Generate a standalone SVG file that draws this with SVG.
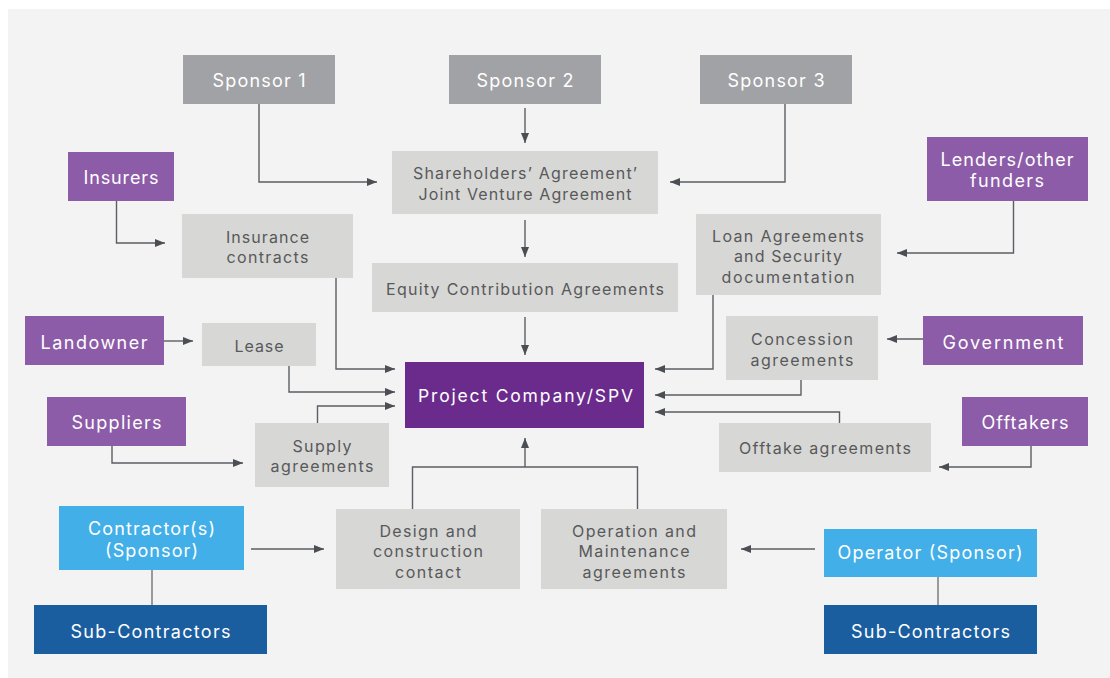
<svg xmlns="http://www.w3.org/2000/svg" width="1110" height="678" viewBox="0 0 1110 678">
<style>
.t{font-family:Inter,"Open Sans","Liberation Sans",sans-serif;text-anchor:middle}
.w{fill:#ffffff;font-size:18px}
.g{fill:#58595b;font-size:16px}
.sp{fill:#a1a2a5}
.ag{fill:#d7d7d5}
.pu{fill:#8d5ca8}
.dp{fill:#6b2b8d}
.lb{fill:#42afe9}
.db{fill:#1b5e9f}
.c{fill:none;stroke:#5b5e63;stroke-width:1.4}
.l{fill:none;stroke:#9a9a9a;stroke-width:2}
</style>
<defs>
<marker id="ah" viewBox="0 0 10 8" refX="10" refY="4" markerWidth="10" markerHeight="8" markerUnits="userSpaceOnUse" orient="auto">
<path d="M0,0 L10,4 L0,8 Z" fill="#4b4e53"/>
</marker>
</defs>
<rect x="0" y="0" width="1110" height="678" fill="#ffffff"/>
<rect x="8" y="9" width="1102" height="669" fill="#f3f3f3"/>

<g id="connectors">
<path class="c" d="M259 104 V182 H377" marker-end="url(#ah)"/>
<path class="c" d="M525 108 V143" marker-end="url(#ah)"/>
<path class="c" d="M785 104 V182 H670" marker-end="url(#ah)"/>
<path class="c" d="M525 220 V257" marker-end="url(#ah)"/>
<path class="c" d="M525 317 V355" marker-end="url(#ah)"/>
<path class="c" d="M116.5 201 V243 H165" marker-end="url(#ah)"/>
<path class="c" d="M1013.5 201 V253 H897" marker-end="url(#ah)"/>
<path class="c" d="M336 278 V369 H395" marker-end="url(#ah)"/>
<path class="c" d="M289 366 V392 H395" marker-end="url(#ah)"/>
<path class="c" d="M317.5 423 V406 H395" marker-end="url(#ah)"/>
<path class="c" d="M713 295 V369 H655" marker-end="url(#ah)"/>
<path class="c" d="M801 380 V395 H655" marker-end="url(#ah)"/>
<path class="c" d="M839.5 423 V412 H655" marker-end="url(#ah)"/>
<path class="c" d="M164 341 H193" marker-end="url(#ah)"/>
<path class="c" d="M923 339 H887" marker-end="url(#ah)"/>
<path class="c" d="M112 446 V463 H243" marker-end="url(#ah)"/>
<path class="c" d="M1031 446 V467 H939" marker-end="url(#ah)"/>
<path class="c" d="M412.5 509 V467 H637.5 V509"/>
<path class="c" d="M525 467 V438" marker-end="url(#ah)"/>
<path class="c" d="M251 549 H324" marker-end="url(#ah)"/>
<path class="c" d="M815 549 H741" marker-end="url(#ah)"/>
<path class="l" d="M152 570 V605"/>
<path class="l" d="M938 577 V605"/>
</g>

<g id="sponsor1"><rect class="sp" x="183" y="55" width="152" height="49"/><text class="t w" x="259" y="87" textLength="93" lengthAdjust="spacing">Sponsor 1</text></g>
<g id="sponsor2"><rect class="sp" x="449" y="55" width="152" height="49"/><text class="t w" x="525" y="87" textLength="97" lengthAdjust="spacing">Sponsor 2</text></g>
<g id="sponsor3"><rect class="sp" x="700" y="55" width="152" height="49"/><text class="t w" x="776" y="87" textLength="97" lengthAdjust="spacing">Sponsor 3</text></g>

<g id="shareholders"><rect class="ag" x="392" y="151" width="266" height="63"/>
<text class="t g" x="525" y="179" textLength="224" lengthAdjust="spacing">Shareholders’ Agreement’</text>
<text class="t g" x="525" y="200" textLength="213" lengthAdjust="spacing">Joint Venture Agreement</text></g>

<g id="insurers"><rect class="pu" x="68" y="152" width="106" height="49"/><text class="t w" x="121" y="184" textLength="75" lengthAdjust="spacing">Insurers</text></g>

<g id="lenders"><rect class="pu" x="927" y="137" width="161" height="64"/>
<text class="t w" x="1007" y="166" textLength="133" lengthAdjust="spacing">Lenders/other</text>
<text class="t w" x="1007" y="187" textLength="74" lengthAdjust="spacing">funders</text></g>

<g id="insurance"><rect class="ag" x="182" y="214" width="171" height="64"/>
<text class="t g" x="267.5" y="243" textLength="83" lengthAdjust="spacing">Insurance</text>
<text class="t g" x="267.5" y="263" textLength="82" lengthAdjust="spacing">contracts</text></g>

<g id="equity"><rect class="ag" x="372" y="263" width="306" height="49"/>
<text class="t g" x="525" y="295" textLength="278" lengthAdjust="spacing">Equity Contribution Agreements</text></g>

<g id="loan"><rect class="ag" x="696" y="214" width="185" height="81"/>
<text class="t g" x="788" y="242" textLength="152" lengthAdjust="spacing">Loan Agreements</text>
<text class="t g" x="788" y="262" textLength="108" lengthAdjust="spacing">and Security</text>
<text class="t g" x="788" y="283" textLength="133" lengthAdjust="spacing">documentation</text></g>

<g id="landowner"><rect class="pu" x="25" y="316" width="139" height="49"/><text class="t w" x="94" y="349" textLength="107" lengthAdjust="spacing">Landowner</text></g>

<g id="lease"><rect class="ag" x="202" y="323" width="114" height="43"/><text class="t g" x="259" y="352" textLength="49" lengthAdjust="spacing">Lease</text></g>

<g id="spv"><rect class="dp" x="405" y="362" width="239" height="66"/><text class="t w" x="525.5" y="402" textLength="215" lengthAdjust="spacing" style="font-size:17.5px">Project Company/SPV</text></g>

<g id="concession"><rect class="ag" x="726" y="316" width="152" height="64"/>
<text class="t g" x="802" y="345" textLength="102" lengthAdjust="spacing">Concession</text>
<text class="t g" x="802" y="366" textLength="103" lengthAdjust="spacing">agreements</text></g>

<g id="government"><rect class="pu" x="923" y="316" width="160" height="49"/><text class="t w" x="1003" y="349" textLength="121" lengthAdjust="spacing">Government</text></g>

<g id="suppliers"><rect class="pu" x="47" y="397" width="139" height="49"/><text class="t w" x="116.5" y="429" textLength="90" lengthAdjust="spacing">Suppliers</text></g>

<g id="supply"><rect class="ag" x="255" y="423" width="134" height="64"/>
<text class="t g" x="322" y="452" textLength="59" lengthAdjust="spacing">Supply</text>
<text class="t g" x="322" y="472" textLength="103" lengthAdjust="spacing">agreements</text></g>

<g id="offtakers"><rect class="pu" x="962" y="397" width="126" height="49"/><text class="t w" x="1025" y="429" textLength="87" lengthAdjust="spacing">Offtakers</text></g>

<g id="offtake"><rect class="ag" x="719" y="423" width="212" height="49"/><text class="t g" x="825" y="454" textLength="172" lengthAdjust="spacing">Offtake agreements</text></g>

<g id="contractor"><rect class="lb" x="59" y="506" width="185" height="64"/>
<text class="t w" x="151.5" y="535" textLength="127" lengthAdjust="spacing">Contractor(s)</text>
<text class="t w" x="151.5" y="557" textLength="93" lengthAdjust="spacing">(Sponsor)</text></g>

<g id="design"><rect class="ag" x="336" y="509" width="184" height="80"/>
<text class="t g" x="428" y="537" textLength="97" lengthAdjust="spacing">Design and</text>
<text class="t g" x="428" y="557" textLength="110" lengthAdjust="spacing">construction</text>
<text class="t g" x="428" y="578" textLength="66" lengthAdjust="spacing">contact</text></g>

<g id="om"><rect class="ag" x="541" y="509" width="186" height="80"/>
<text class="t g" x="634" y="537" textLength="124" lengthAdjust="spacing">Operation and</text>
<text class="t g" x="634" y="557" textLength="111" lengthAdjust="spacing">Maintenance</text>
<text class="t g" x="634" y="578" textLength="103" lengthAdjust="spacing">agreements</text></g>

<g id="operator"><rect class="lb" x="824" y="529" width="213" height="48"/><text class="t w" x="930" y="559" textLength="185" lengthAdjust="spacing">Operator (Sponsor)</text></g>

<g id="subcontractors-left"><rect class="db" x="34" y="605" width="233" height="49"/><text class="t w" x="150.5" y="638" textLength="160" lengthAdjust="spacing">Sub-Contractors</text></g>

<g id="subcontractors-right"><rect class="db" x="824" y="605" width="213" height="49"/><text class="t w" x="930.5" y="638" textLength="159" lengthAdjust="spacing">Sub-Contractors</text></g>
</svg>
